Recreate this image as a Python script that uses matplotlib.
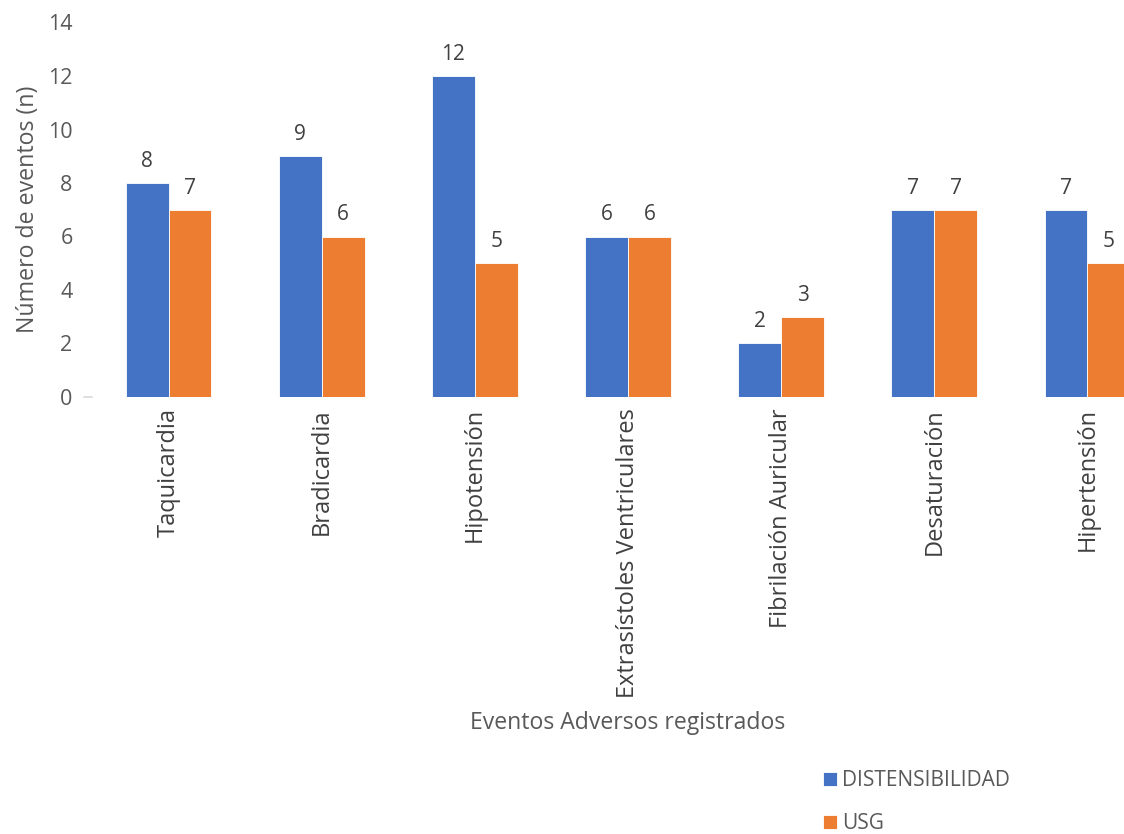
import matplotlib.pyplot as plt
import numpy as np

categorias = ['Taquicardia', 'Bradicardia', 'Hipotensión', 'Extrasístoles Ventriculares',
              'Fibrilación Auricular', 'Desaturación', 'Hipertensión']
distensibilidad = [8, 9, 12, 6, 2, 7, 7]
usg = [7, 6, 5, 6, 3, 7, 5]

azul = '#4472C4'
naranja = '#ED7D31'
gris = '#595959'

plt.rcParams['font.family'] = ['Open Sans', 'DejaVu Sans']

fig = plt.figure(figsize=(11.24, 8.34), dpi=100)
ax = fig.add_axes([92 / 1124, 1 - 397 / 834, 1072 / 1124, 374.5 / 834])

x = np.arange(len(categorias))
w = 0.28
b1 = ax.bar(x - w / 2, distensibilidad, w, color=azul, edgecolor='white', linewidth=0.6, label='DISTENSIBILIDAD')
b2 = ax.bar(x + w / 2, usg, w, color=naranja, edgecolor='white', linewidth=0.6, label='USG')

for barras in (b1, b2):
    for r in barras:
        ax.annotate(f'{r.get_height():g}', (r.get_x() + r.get_width() / 2, r.get_height()),
                    xytext=(0, 8), textcoords='offset points', ha='center', va='bottom',
                    fontsize=15, color='#404040')

ax.set_xlim(-0.5, len(categorias) - 0.5)
ax.set_ylim(0, 14)
ax.set_yticks(range(0, 15, 2))
ax.set_xticks(x)
ax.set_xticklabels(categorias, rotation=90, fontsize=17, color='#404040')
ax.tick_params(axis='y', labelsize=15.5, labelcolor=gris, length=0, pad=14)
ax.tick_params(axis='x', length=0, pad=8)
for s in ax.spines.values():
    s.set_visible(False)

# small gray dash at the baseline, left of the plot
ax.plot([-0.007, 0.0], [0, 0], transform=ax.get_yaxis_transform(), color='#D9D9D9',
        lw=1.2, clip_on=False)

ax.set_ylabel('Número de eventos (n)', fontsize=16.7, color=gris, labelpad=6)
fig.text(628 / 1124, 1 - 723 / 834, 'Eventos Adversos registrados', ha='center', va='center',
         fontsize=16.6, color=gris)

ax.legend(loc='upper left', bbox_to_anchor=(815 / 1124, 1 - 762 / 834), bbox_transform=fig.transFigure,
          frameon=False, fontsize=15, labelcolor=gris, handlelength=0.65, handleheight=0.65,
          handletextpad=0.25, labelspacing=1.05, borderaxespad=0)

fig.savefig('out.png', dpi=100)
